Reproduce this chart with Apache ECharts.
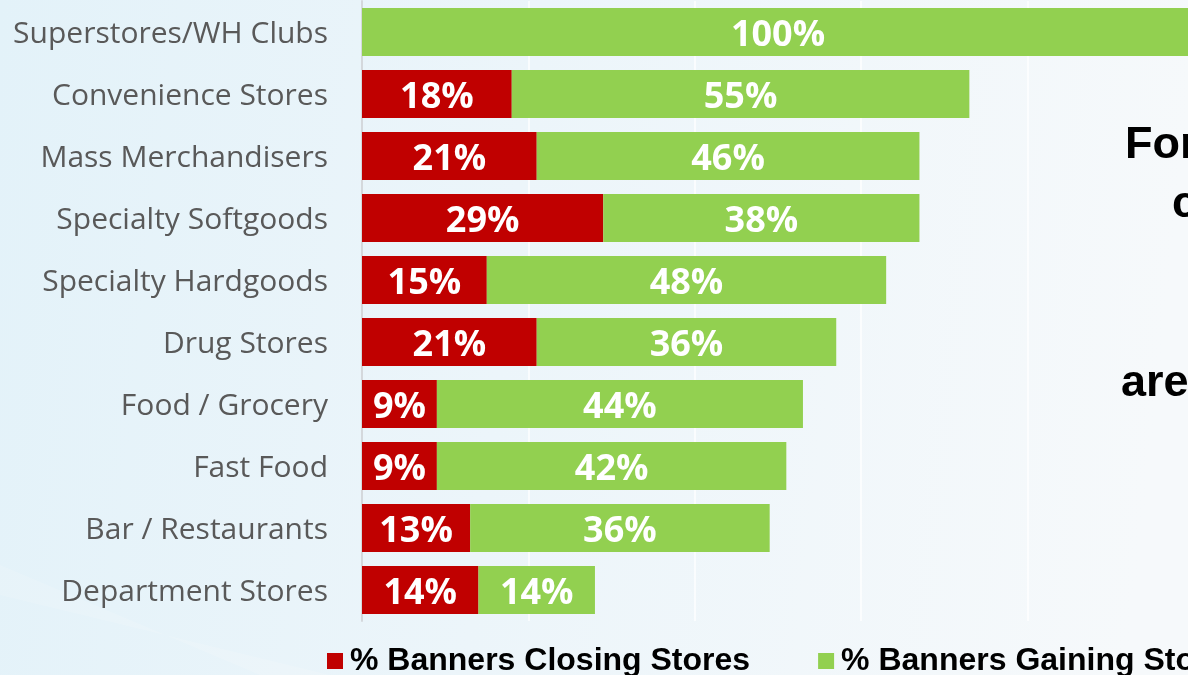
<!DOCTYPE html>
<html>
<head>
<meta charset="utf-8">
<script src="https://cdn.jsdelivr.net/npm/echarts@6/dist/echarts.min.js"></script>
<style>
  html, body { margin: 0; padding: 0; width: 1188px; height: 675px; overflow: hidden; }
  #chart { width: 1188px; height: 675px; }
</style>
</head>
<body>
<div id="chart"></div>
<script>
// Store formats, top to bottom
const categories = [
  'Superstores/WH Clubs',
  'Convenience Stores',
  'Mass Merchandisers',
  'Specialty Softgoods',
  'Specialty Hardgoods',
  'Drug Stores',
  'Food / Grocery',
  'Fast Food',
  'Bar / Restaurants',
  'Department Stores'
];
// Share of banners closing / gaining stores (%)
const closingPct = [0, 18, 21, 29, 15, 21, 9, 9, 13, 14];
const gainingPct = [100, 55, 46, 38, 48, 36, 44, 42, 36, 14];
const seriesNames = ['% Banners Closing Stores', '% Banners Gaining Stores'];
// Side-panel text fragments that fit on the slide
const sideText = [
  { text: 'For', line: 0, x: 1125 },
  { text: 'c', line: 1, x: 1172 },
  { text: 'are', line: 4, x: 1121 }
];

const RED = '#C00000';
const GREEN = '#92D050';

const chart = echarts.init(document.getElementById('chart'), null, { renderer: 'canvas' });

const barLabel = {
  show: true,
  position: 'inside',
  offset: [0, 4],
  color: '#ffffff',
  fontFamily: 'Open Sans',
  fontWeight: 'bold',
  fontSize: 36,
  formatter: p => (p.value ? p.value + '%' : '')
};

const graphics = [
  // soft diagonal sheen in the lower-left corner
  {
    type: 'polygon',
    silent: true,
    z: -10,
    shape: { points: [[0, 565], [0, 595], [330, 675], [260, 675]] },
    style: { fill: 'rgba(255,255,255,0.14)' }
  }
];
sideText.forEach(t => {
  graphics.push({
    type: 'text',
    silent: true,
    left: t.x,
    top: 123 + t.line * 59.5,
    style: {
      text: t.text,
      fill: '#000000',
      font: 'bold 45px "Liberation Sans", Arial, sans-serif'
    }
  });
});

chart.setOption({
  animation: false,
  backgroundColor: {
    type: 'linear', x: 0, y: 0, x2: 1, y2: 0.2,
    colorStops: [
      { offset: 0, color: '#e3f2f9' },
      { offset: 0.45, color: '#ecf5fa' },
      { offset: 1, color: '#f6f9fb' }
    ]
  },
  grid: {
    left: 362, width: 832, top: 1, height: 620,
    containLabel: false,
    outerBoundsMode: 'none'
  },
  legend: {
    data: seriesNames,
    left: 327,
    top: 645,
    width: 2000,
    padding: 0,
    itemWidth: 16,
    itemHeight: 16,
    itemGap: 68,
    icon: 'rect',
    textStyle: {
      color: '#000000',
      fontFamily: '"Liberation Sans", Arial, sans-serif',
      fontWeight: 'bold',
      fontSize: 32,
      padding: [0, 0, 0, 2]
    }
  },
  xAxis: {
    type: 'value',
    min: 0,
    max: 100,
    interval: 20,
    axisLabel: { show: false },
    axisLine: { show: false },
    axisTick: { show: false },
    splitLine: { show: true, lineStyle: { color: 'rgba(255,255,255,0.9)', width: 1.5 } }
  },
  yAxis: {
    type: 'category',
    data: categories,
    inverse: true,
    axisTick: { show: false },
    axisLine: { show: true, lineStyle: { color: '#d4d8dc', width: 2 } },
    axisLabel: {
      margin: 34,
      formatter: v => '{c|' + v + '}',
      rich: {
        c: {
          color: '#595959',
          fontFamily: 'Open Sans',
          fontSize: 30,
          padding: [5, 0, 0, 0]
        }
      }
    }
  },
  series: [
    {
      name: seriesNames[0],
      type: 'bar',
      stack: 'banners',
      data: closingPct,
      barWidth: 48,
      itemStyle: { color: RED },
      label: barLabel
    },
    {
      name: seriesNames[1],
      type: 'bar',
      stack: 'banners',
      data: gainingPct,
      barWidth: 48,
      itemStyle: { color: GREEN },
      label: barLabel
    }
  ],
  graphic: graphics
});
</script>
</body>
</html>
